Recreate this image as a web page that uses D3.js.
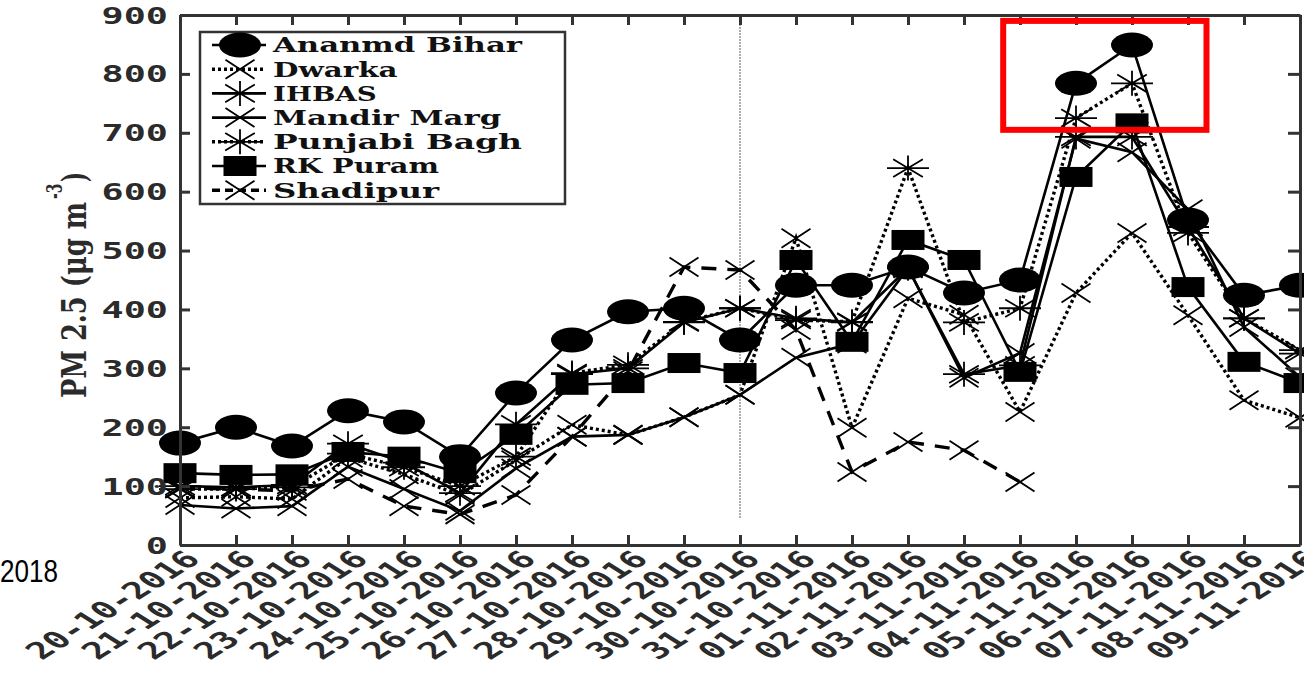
<!DOCTYPE html>
<meta charset="utf-8">
<html>
<head>
<style>
  body { margin: 0; background: #fff; }
  svg { display: block; }
</style>
</head>
<body>
<div id="chart"></div>
<script src="https://cdn.jsdelivr.net/npm/d3@7/dist/d3.min.js"></script>
<script>
    // dates along the x axis
    var dates = ["20-10-2016", "21-10-2016", "22-10-2016", "23-10-2016", "24-10-2016",
                 "25-10-2016", "26-10-2016", "27-10-2016", "28-10-2016", "29-10-2016",
                 "30-10-2016", "31-10-2016", "01-11-2016", "02-11-2016", "03-11-2016",
                 "04-11-2016", "05-11-2016", "06-11-2016", "07-11-2016", "08-11-2016",
                 "09-11-2016"];

    // PM 2.5 per station (ug m-3)
    var ananmdBihar = [173, 200, 168, 228, 209, 150, 258, 348, 396, 402, 348, 441, 441, 472, 428, 450, 784, 849, 552, 424, 441];
    var dwarka      = [80, 82, 78, 148, 120, 85, 144, 204, 187, 217, 255, 521, 199, 419, 391, 226, 428, 530, 390, 246, 216];
    var ihbas       = [100, 98, 102, 172, 140, 88, 205, 290, 300, 378, 402, 385, 378, 470, 290, 305, 693, 693, 540, 385, 325];
    var mandirMarg  = [68, 62, 66, 133, 95, 58, 130, 184, 187, 217, 255, 318, 342, 470, 284, 326, 690, 667, 570, 370, 285];
    var punjabiBagh = [95, 95, 98, 155, 132, 100, 150, 292, 306, 379, 402, 382, 379, 640, 378, 402, 725, 784, 530, 385, 331];
    var rkPuram     = [122, 119, 120, 158, 150, 122, 187, 272, 275, 309, 292, 484, 345, 518, 484, 294, 625, 716, 438, 311, 275];
    var shadipur    = [97, 95, 92, 112, 66, 52, 85, 184, 295, 472, 467, 365, 124, 175, 161, 107, null, null, null, null, null];

    var yTicks = [0, 100, 200, 300, 400, 500, 600, 700, 800, 900];

    // the highlighted box (date index, value) and the marker date line
    var boxIndex = [14.7, 18.33];
    var boxValue = [705, 890];
    var lineIndex = 10;
    var lineValue = [45, 900];

    var series = [
      {name: "Ananmd Bihar", values: ananmdBihar, marker: "circle", line: "solid"},
      {name: "Dwarka",       values: dwarka,      marker: "x",      line: "dot"},
      {name: "IHBAS",        values: ihbas,       marker: "star",   line: "solid"},
      {name: "Mandir Marg",  values: mandirMarg,  marker: "x",      line: "solid"},
      {name: "Punjabi Bagh", values: punjabiBagh, marker: "star",   line: "dot"},
      {name: "RK Puram",     values: rkPuram,     marker: "square", line: "solid"},
      {name: "Shadipur",     values: shadipur,    marker: "x",      line: "dash"}
    ];

    var width = 1304, height = 674;
    var SX = 1.6; // the figure was stretched sideways, text too

    var svg = d3.select("#chart")
      .append("svg")
        .attr("width", width)
        .attr("height", height);

    var x = d3.scaleLinear().domain([0, dates.length - 1]).range([180, 1300]);
    var y = d3.scaleLinear().domain([0, 900]).range([545, 15]);

    var axisColor = "#333";

    // vertical dotted line
    svg.append("line")
      .attr("x1", x(lineIndex)).attr("x2", x(lineIndex))
      .attr("y1", y(lineValue[1])).attr("y2", y(lineValue[0]))
      .attr("stroke", "#777")
      .attr("stroke-width", 1.2)
      .attr("stroke-dasharray", "2,1");

    function dashFor(t) {
      if (t == "dot") return "3,3";
      if (t == "dash") return "15,11";
      return null;
    }
    function widthFor(t) {
      return t == "solid" ? 2.6 : 3.4;
    }

    function drawMarker(g, type) {
      if (type == "circle") {
        g.append("ellipse").attr("rx", 21).attr("ry", 12.5).attr("fill", "#000");
      } else if (type == "square") {
        g.append("rect").attr("x", -16.5).attr("y", -10).attr("width", 33).attr("height", 20).attr("fill", "#000");
      } else if (type == "x") {
        g.append("path").attr("d", "M-14.5,-9.5L14.5,9.5M-14.5,9.5L14.5,-9.5")
          .attr("stroke", "#000").attr("stroke-width", 1.8).attr("fill", "none");
      } else if (type == "star") {
        g.append("path").attr("d", "M-21,0L21,0M0,-12.5L0,12.5M-14.8,-8.8L14.8,8.8M-14.8,8.8L14.8,-8.8")
          .attr("stroke", "#000").attr("stroke-width", 1.8).attr("fill", "none");
      }
    }

    var line = d3.line()
      .defined(function(d) { return d != null; })
      .x(function(d, i) { return x(i); })
      .y(function(d) { return y(d); });

    series.forEach(function(s) {
      svg.append("path")
        .datum(s.values)
        .attr("fill", "none")
        .attr("stroke", "#000")
        .attr("stroke-width", widthFor(s.line))
        .attr("stroke-dasharray", dashFor(s.line))
        .attr("d", line);

      svg.append("g").selectAll("g")
        .data(s.values.map(function(v, i) { return {v: v, i: i}; }).filter(function(d) { return d.v != null; }))
        .enter().append("g")
          .attr("transform", function(d) { return "translate(" + x(d.i) + "," + y(d.v) + ")"; })
          .each(function() { drawMarker(d3.select(this), s.marker); });
    });

    // axes: box with ticks inside
    var xb = svg.append("g")
      .attr("transform", "translate(0," + y(0) + ")")
      .call(d3.axisBottom(x).tickValues(d3.range(dates.length)).tickSizeInner(-10).tickSizeOuter(0)
        .tickFormat(function(i) { return dates[i]; }));
    xb.selectAll("text")
      .attr("y", null).attr("x", 0).attr("dy", "0.35em")
      .attr("transform", "translate(12,10) scale(" + SX + ",1) rotate(-45)")
      .style("text-anchor", "end");

    var yl = svg.append("g")
      .attr("transform", "translate(" + x(0) + ",0)")
      .call(d3.axisLeft(y).tickValues(yTicks).tickSizeInner(-10).tickSizeOuter(0));
    yl.selectAll("text")
      .attr("x", 0).attr("dy", "0.35em")
      .attr("transform", "translate(-12,0) scale(" + SX + ",1)")
      .style("text-anchor", "end");

    svg.append("g")
      .attr("transform", "translate(0," + y(900) + ")")
      .call(d3.axisTop(x).tickValues(d3.range(dates.length)).tickSizeInner(-10).tickSizeOuter(0).tickFormat(""));
    svg.append("g")
      .attr("transform", "translate(" + x(dates.length - 1) + ",0)")
      .call(d3.axisRight(y).tickValues(yTicks).tickSizeInner(-12).tickSizeOuter(0).tickFormat(""));

    svg.selectAll(".domain, .tick line")
      .attr("stroke", axisColor)
      .attr("stroke-width", 3);
    svg.selectAll(".tick text")
      .attr("fill", "#2b2b2b")
      .attr("font-family", "DejaVu Sans Mono")
      .attr("font-weight", "bold");
    xb.selectAll("text").attr("font-size", 23.5);
    yl.selectAll("text").attr("font-size", 23);

    // y axis label
    var labelFont = "DejaVu Serif";
    svg.append("text")
      .attr("transform", "translate(86,398) scale(" + SX + ",1) rotate(-90)")
      .attr("font-family", labelFont).attr("font-weight", "bold").attr("font-size", 21)
      .attr("fill", "#2b2b2b")
      .attr("textLength", 196).attr("lengthAdjust", "spacingAndGlyphs")
      .text("PM 2.5 (\u03bcg m");
    svg.append("text")
      .attr("transform", "translate(62,199) scale(" + SX + ",1) rotate(-90)")
      .attr("font-family", labelFont).attr("font-weight", "bold").attr("font-size", 14)
      .attr("fill", "#2b2b2b")
      .text("-3");
    svg.append("text")
      .attr("transform", "translate(86,182) scale(" + SX + ",1) rotate(-90)")
      .attr("font-family", labelFont).attr("font-weight", "bold").attr("font-size", 21)
      .attr("fill", "#2b2b2b")
      .text(")");

    // legend
    var legend = svg.append("g");
    legend.append("rect")
      .attr("x", 200).attr("y", 32).attr("width", 365).attr("height", 172)
      .attr("fill", "#fff").attr("stroke", axisColor).attr("stroke-width", 2.5);
    series.forEach(function(s, i) {
      var ry = 45 + i * 24.2;
      legend.append("line")
        .attr("x1", 212).attr("x2", 266).attr("y1", ry).attr("y2", ry)
        .attr("stroke", "#000")
        .attr("stroke-width", widthFor(s.line))
        .attr("stroke-dasharray", s.line == "dash" ? "8,5" : dashFor(s.line));
      drawMarker(legend.append("g").attr("transform", "translate(240," + ry + ")"), s.marker);
      legend.append("text")
        .attr("transform", "translate(273," + ry + ") scale(" + SX + ",1)")
        .attr("dy", "0.35em")
        .attr("font-family", labelFont).attr("font-weight", "bold").attr("font-size", 21)
        .attr("fill", "#111")
        .attr("textLength", s.name.length * 20.75 / SX).attr("lengthAdjust", "spacingAndGlyphs")
        .text(s.name);
    });

    // red highlight box
    svg.append("rect")
      .attr("x", x(boxIndex[0])).attr("y", y(boxValue[1]))
      .attr("width", x(boxIndex[1]) - x(boxIndex[0]))
      .attr("height", y(boxValue[0]) - y(boxValue[1]))
      .attr("fill", "none").attr("stroke", "#f00").attr("stroke-width", 6);

    // stray year text at the left edge
    svg.append("text")
      .attr("x", 0).attr("y", 582)
      .attr("font-family", "Liberation Sans").attr("font-size", 32)
      .attr("textLength", 58).attr("lengthAdjust", "spacingAndGlyphs")
      .text("2018");
</script>
</body>
</html>
